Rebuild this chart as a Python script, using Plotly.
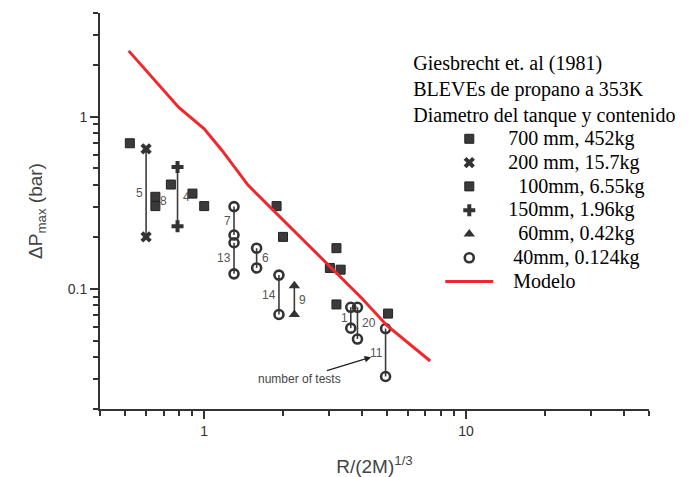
import math
import plotly.graph_objects as go

# ---------------- data ----------------
# Modelo (red curve)
model_x = [0.515, 0.80, 1.0, 1.17, 1.47, 2.0, 3.0, 4.0, 5.0, 7.3]
model_y = [2.41, 1.13, 0.85, 0.636, 0.40, 0.25, 0.136, 0.088, 0.061, 0.038]

# 700 mm, 452 kg (single squares)
s700_x = [0.52, 0.746, 0.902, 1.0, 1.89, 2.0, 3.02, 3.2, 3.32, 3.2, 5.04]
s700_y = [0.70, 0.403, 0.357, 0.302, 0.302, 0.20, 0.132, 0.172, 0.129, 0.081, 0.0717]

# ranged series: x, upper value, lower value, number of tests
s200_x = [0.60]
s200_hi = [0.65]
s200_lo = [0.20]
s200_n = ["5"]

s100_x = [0.651]
s100_hi = [0.342]
s100_lo = [0.302]
s100_n = ["8"]

s150_x = [0.791]
s150_hi = [0.509]
s150_lo = [0.231]
s150_n = ["4"]

s60_x = [2.21]
s60_hi = [0.104]
s60_lo = [0.0708]
s60_n = ["9"]

s40_x = [1.30, 1.30, 1.586, 1.93, 3.63, 3.85, 4.93]
s40_hi = [0.30, 0.185, 0.172, 0.12, 0.078, 0.078, 0.0587]
s40_lo = [0.205, 0.122, 0.132, 0.0708, 0.059, 0.051, 0.0309]
s40_n = ["7", "13", "6", "14", "1", "20", "11"]

NB = "\u00a0"
legend_names = [NB * 2 + "700 mm, 452kg", NB * 2 + "200 mm, 15.7kg", NB * 4 + "100mm, 6.55kg",
                NB * 2 + "150mm, 1.96kg", NB * 4 + "60mm, 0.42kg", NB * 3 + "40mm, 0.124kg",
                NB * 3 + "Modelo"]
legend_title = "Giesbrecht et. al (1981)<br>BLEVEs de propano a 353K<br>Diametro del tanque y contenido"

x_ticks = [1, 10]
y_ticks = [0.1, 1]
x_range = [0.4, 50]
y_range = [0.02, 4]

# ---------------- styles ----------------
MK = "#333333"
SEG = "#3c3c3c"
LBL = "#555555"
SANS = "Liberation Sans, Arial, sans-serif"
SERIF = "Liberation Serif, Times New Roman, serif"


def big(name):
    return '<span style="font-size:20px">' + name + "</span>"


def segments(xs, his, los):
    X, Y = [], []
    for x, h, l in zip(xs, his, los):
        X += [x, x, None]
        Y += [h, l, None]
    return X, Y


fig = go.Figure()

# vertical range lines
ranged = [
    (s200_x, s200_hi, s200_lo, s200_n, ["left"]),
    (s100_x, s100_hi, s100_lo, s100_n, ["right"]),
    (s150_x, s150_hi, s150_lo, s150_n, ["right"]),
    (s60_x, s60_hi, s60_lo, s60_n, ["right"]),
    (s40_x, s40_hi, s40_lo, s40_n, ["left", "left", "right", "left", "left", "right", "left"]),
]
for xs, hi, lo, n, sides in ranged:
    X, Y = segments(xs, hi, lo)
    fig.add_trace(go.Scatter(x=X, y=Y, mode="lines", line=dict(color=SEG, width=1.6),
                             showlegend=False, hoverinfo="skip"))

# marker series
fig.add_trace(go.Scatter(x=s700_x, y=s700_y, mode="markers", name=big(legend_names[0]),
                         marker=dict(symbol="square", size=9, color="#3a3a3a",
                                     line=dict(color="#222", width=1))))
fig.add_trace(go.Scatter(x=s200_x + s200_x, y=s200_hi + s200_lo, mode="markers",
                         name=big(legend_names[1]),
                         marker=dict(symbol="x", size=10, color=MK, line=dict(width=0))))
fig.add_trace(go.Scatter(x=s100_x + s100_x, y=s100_hi + s100_lo, mode="markers",
                         name=big(legend_names[2]),
                         marker=dict(symbol="square", size=9, color="#3a3a3a",
                                     line=dict(color="#222", width=1))))
fig.add_trace(go.Scatter(x=s150_x + s150_x, y=s150_hi + s150_lo, mode="markers",
                         name=big(legend_names[3]),
                         marker=dict(symbol="cross", size=10, color=MK, line=dict(width=0))))
fig.add_trace(go.Scatter(x=s60_x + s60_x, y=s60_hi + s60_lo, mode="markers",
                         name=big(legend_names[4]),
                         marker=dict(symbol="triangle-up", size=10, color=MK, line=dict(width=0))))
fig.add_trace(go.Scatter(x=s40_x + s40_x, y=s40_hi + s40_lo, mode="markers",
                         name=big(legend_names[5]),
                         marker=dict(symbol="circle-open", size=9, color=MK, line=dict(width=2.6))))
fig.add_trace(go.Scatter(x=model_x, y=model_y, mode="lines", name=big(legend_names[6]),
                         line=dict(color="#f0282d", width=3)))

# number-of-tests labels
annotations = []
for xs, hi, lo, n, sides in ranged:
    for x, h, l, t, s in zip(xs, hi, lo, n, sides):
        annotations.append(dict(
            x=math.log10(x), y=(math.log10(h) + math.log10(l)) / 2, text=t,
            showarrow=False, xanchor="right" if s == "left" else "left",
            xshift=-1 if s == "left" else 3,
            font=dict(family=SANS, size=12, color=LBL)))

# "number of tests" pointer
annotations.append(dict(
    x=math.log10(4.34), y=math.log10(0.040), ax=-72, ay=22,
    text="number of tests", showarrow=True, arrowhead=2, arrowsize=1, arrowwidth=1.3,
    arrowcolor="#222", standoff=0, font=dict(family=SANS, size=12, color="#444")))


def minor_vals(lo, hi):
    out = []
    for k in range(-3, 3):
        for d in range(2, 10):
            v = d * 10 ** k
            if lo <= v <= hi:
                out.append(v)
    return out


axis_common = dict(
    type="log", showgrid=False, zeroline=False, showline=True, linecolor="#333",
    linewidth=2, ticks="outside", ticklen=8, tickwidth=2, tickcolor="#333",
    tickfont=dict(family=SANS, size=14, color="#333"), automargin=False,
)

fig.update_layout(
    width=690, height=477,
    margin=dict(l=100, r=38, t=13, b=68),
    paper_bgcolor="white", plot_bgcolor="white",
    xaxis=dict(**axis_common,
               range=[math.log10(x_range[0]), math.log10(x_range[1])],
               tickmode="array", tickvals=x_ticks, ticktext=[str(v) for v in x_ticks],
               minor=dict(tickmode="array", tickvals=minor_vals(*x_range), ticks="outside",
                          ticklen=5, tickwidth=2, tickcolor="#333", showgrid=False),
               title=dict(text="R/(2M)<sup>1/3</sup>", standoff=22,
                          font=dict(family=SANS, size=19, color="#444"))),
    yaxis=dict(**axis_common,
               range=[math.log10(y_range[0]), math.log10(y_range[1])],
               tickmode="array", tickvals=y_ticks, ticktext=[str(v) for v in y_ticks],
               minor=dict(tickmode="array", tickvals=minor_vals(*y_range), ticks="outside",
                          ticklen=5, tickwidth=2, tickcolor="#333", showgrid=False),
               title=dict(text="ΔP<sub>max</sub> (bar)", standoff=20,
                          font=dict(family=SANS, size=19, color="#444"))),
    legend=dict(x=0.567, y=0.922, xanchor="left", yanchor="top",
                bgcolor="rgba(0,0,0,0)", itemwidth=48, indentation=29,
                font=dict(family=SERIF, size=16, color="black"),
                title=dict(text=legend_title,
                           font=dict(family=SERIF, size=20, color="black"))),
    annotations=annotations,
    showlegend=True,
)

fig.write_html("out.html")
